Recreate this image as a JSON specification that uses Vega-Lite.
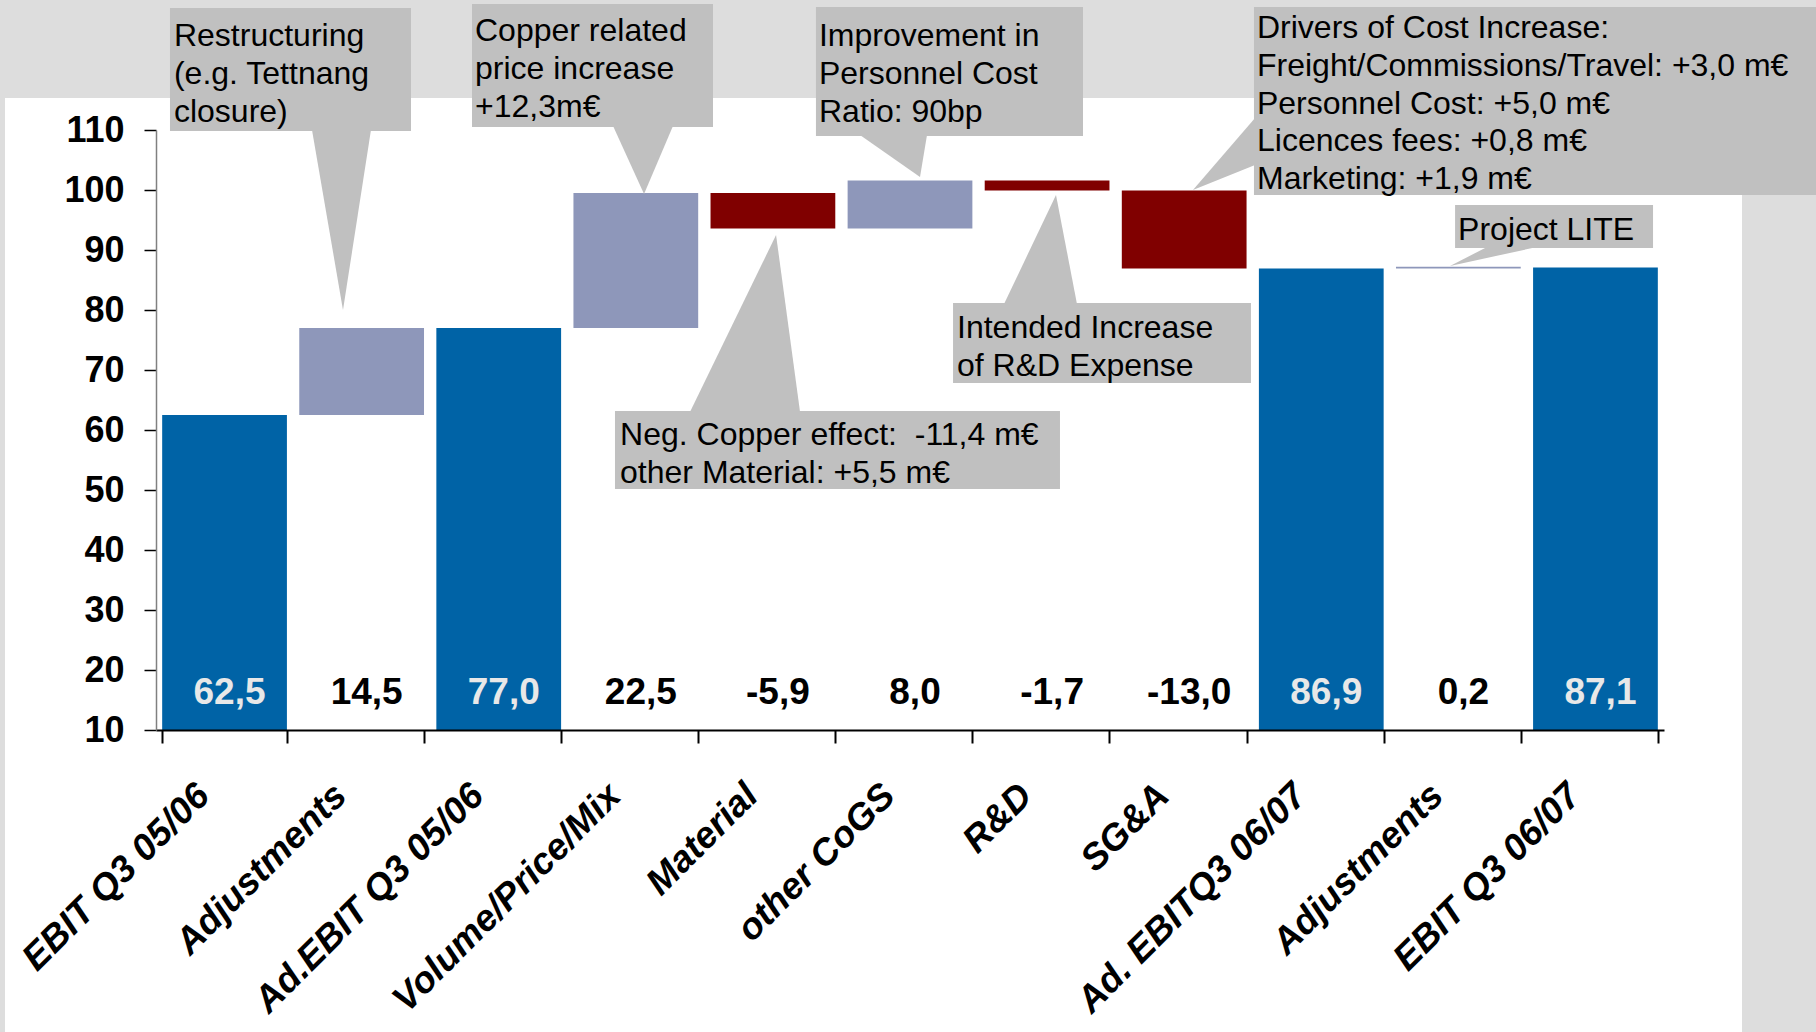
{
  "$schema": "https://vega.github.io/schema/vega-lite/v6.json",
  "width": 1508,
  "height": 600,
  "autosize": {"type": "none"},
  "padding": {"left": 156, "top": 130, "right": 152, "bottom": 302},
  "background": "#DDDDDD",
  "config": {"view": {"stroke": null}, "font": "Liberation Sans", "axis": {"zindex": 2}},
  "datasets": {
    "bg": [{"x0": -1.1015, "x1": 11.569, "y0": -45, "y1": 115.33}],
    "bars": [
      {"key": "01|EBIT Q3 05/06", "start": 0, "end": 62.5, "type": "total", "label": "62,5"},
      {"key": "02|Adjustments", "start": 62.5, "end": 77.0, "type": "up", "label": "14,5"},
      {"key": "03|Ad.EBIT Q3 05/06", "start": 0, "end": 77.0, "type": "total", "label": "77,0"},
      {"key": "04|Volume/Price/Mix", "start": 77.0, "end": 99.5, "type": "up", "label": "22,5"},
      {"key": "05|Material", "start": 99.5, "end": 93.6, "type": "down", "label": "-5,9"},
      {"key": "06|other CoGS", "start": 93.6, "end": 101.6, "type": "up", "label": "8,0"},
      {"key": "07|R&D", "start": 101.6, "end": 99.9, "type": "down", "label": "-1,7"},
      {"key": "08|SG&A", "start": 99.9, "end": 86.9, "type": "down", "label": "-13,0"},
      {"key": "09|Ad. EBITQ3 06/07", "start": 0, "end": 86.9, "type": "total", "label": "86,9"},
      {"key": "10|Adjustments", "start": 86.9, "end": 87.2, "type": "up", "label": "0,2"},
      {"key": "11|EBIT Q3 06/07", "start": 0, "end": 87.1, "type": "total", "label": "87,1"}
    ],
    "boxes": [
      {"id": "restructuring", "x0": 0.102, "x1": 1.860, "y0": 109.83, "y1": 130.33},
      {"id": "copper", "x0": 2.305, "x1": 4.063, "y0": 110.5, "y1": 131.0},
      {"id": "personnel", "x0": 4.814, "x1": 6.762, "y0": 109.0, "y1": 130.5},
      {"id": "negcopper", "x0": 3.348, "x1": 6.594, "y0": 50.17, "y1": 63.17},
      {"id": "rnd", "x0": 5.814, "x1": 7.987, "y0": 67.83, "y1": 81.17},
      {"id": "drivers", "x0": 8.009, "x1": 12.2, "y0": 99.17, "y1": 130.5},
      {"id": "lite", "x0": 9.476, "x1": 10.920, "y0": 90.33, "y1": 97.5}
    ],
    "hptr": [
      {"id": "restructuring", "y": 110.0, "xa": 1.138, "xb": 1.568},
      {"id": "restructuring", "y": 80.0, "xa": 1.364, "xb": 1.364},
      {"id": "copper", "y": 110.67, "xa": 3.334, "xb": 3.771},
      {"id": "copper", "y": 99.33, "xa": 3.560, "xb": 3.560},
      {"id": "personnel", "y": 109.17, "xa": 5.135, "xb": 5.624},
      {"id": "personnel", "y": 102.17, "xa": 5.573, "xb": 5.573},
      {"id": "negcopper", "y": 63.0, "xa": 3.895, "xb": 4.698},
      {"id": "negcopper", "y": 92.5, "xa": 4.523, "xb": 4.523},
      {"id": "rnd", "y": 81.0, "xa": 6.186, "xb": 6.718},
      {"id": "rnd", "y": 99.17, "xa": 6.565, "xb": 6.565},
      {"id": "lite", "y": 90.5, "xa": 9.709, "xb": 10.074},
      {"id": "lite", "y": 87.33, "xa": 9.439, "xb": 9.439}
    ],
    "vptr": [
      {"id": "drivers", "x": 7.564, "ya": 100.0, "yb": 100.0},
      {"id": "drivers", "x": 8.017, "ya": 112.0, "yb": 104.17}
    ],
    "notes": [
      {"id": "restructuring", "x": 0.131, "y": 128.17, "text": "Restructuring\n(e.g. Tettnang\nclosure)"},
      {"id": "copper", "x": 2.327, "y": 129.0, "text": "Copper related\nprice increase\n+12,3m€"},
      {"id": "personnel", "x": 4.836, "y": 128.17, "text": "Improvement in\nPersonnel Cost\nRatio: 90bp"},
      {"id": "negcopper", "x": 3.385, "y": 61.67, "text": "Neg. Copper effect: \u00a0-11,4 m€\nother Material: +5,5 m€"},
      {"id": "rnd", "x": 5.843, "y": 79.5, "text": "Intended Increase\nof R&D Expense"},
      {"id": "drivers", "x": 8.031, "y": 129.5, "text": "Drivers of Cost Increase:\nFreight/Commissions/Travel: +3,0 m€\nPersonnel Cost: +5,0 m€\nLicences fees: +0,8 m€\nMarketing: +1,9 m€"},
      {"id": "lite", "x": 9.498, "y": 95.83, "text": "Project LITE"}
    ]
  },
  "layer": [
    {
      "data": {"name": "bg"},
      "mark": {"type": "rect", "color": "#FFFFFF"},
      "encoding": {
        "x": {"field": "x0", "type": "quantitative", "scale": {"domain": [0, 11], "nice": false, "zero": false}, "axis": null},
        "x2": {"field": "x1"},
        "y": {"field": "y0", "type": "quantitative"},
        "y2": {"field": "y1"}
      }
    },
    {
      "data": {"name": "bars"},
      "mark": {"type": "bar", "clip": true},
      "encoding": {
        "x": {
          "field": "key", "type": "nominal", "sort": null,
          "scale": {"paddingInner": 0.09, "paddingOuter": 0.045},
          "axis": {
            "title": null,
            "zindex": 2,
            "labelExpr": "split(datum.value, '|')[1]",
            "labelAngle": -45,
            "labelFontSize": 37,
            "labelFontWeight": "bold",
            "labelFontStyle": "italic",
            "labelFont": "Liberation Sans",
            "labelColor": "#000000",
            "labelPadding": 34,
            "labelOffset": -34,
            "labelLimit": 800,
            "labelOverlap": false,
            "tickBand": "extent",
            "tickSize": 13,
            "tickWidth": 2,
            "tickColor": "#000000",
            "domainColor": "#000000",
            "domainWidth": 2
          }
        },
        "y": {
          "field": "start", "type": "quantitative",
          "scale": {"domain": [10, 110], "nice": false, "zero": false},
          "axis": {
            "title": null,
            "zindex": 2,
            "values": [10, 20, 30, 40, 50, 60, 70, 80, 90, 100, 110],
            "grid": false,
            "labelFontSize": 36,
            "labelFontWeight": "bold",
            "labelFont": "Liberation Sans",
            "labelColor": "#000000",
            "labelPadding": 20,
            "labelFlush": false,
            "labelOverlap": false,
            "tickSize": 12,
            "tickWidth": 1.5,
            "tickColor": "#000000",
            "domainColor": "#808080",
            "domainWidth": 1.5
          }
        },
        "y2": {"field": "end"},
        "color": {
          "field": "type", "type": "nominal",
          "scale": {"domain": ["total", "up", "down"], "range": ["#0063A6", "#8E97BA", "#800000"]},
          "legend": null
        }
      }
    },
    {
      "data": {"name": "bars"},
      "mark": {"type": "text", "fontSize": 37, "fontWeight": "bold", "font": "Liberation Sans", "baseline": "middle", "align": "center", "dx": 5},
      "encoding": {
        "x": {"field": "key", "type": "nominal", "sort": null, "scale": {"paddingInner": 0.09, "paddingOuter": 0.045}, "axis": null},
        "y": {"datum": 16.1},
        "text": {"field": "label"},
        "color": {"condition": {"test": "datum.type === 'total'", "value": "#E8E8E8"}, "value": "#000000"}
      }
    },
    {
      "data": {"name": "boxes"},
      "mark": {"type": "rect", "color": "#C0C0C0"},
      "encoding": {
        "x": {"field": "x0", "type": "quantitative", "scale": {"domain": [0, 11], "nice": false, "zero": false}, "axis": null},
        "x2": {"field": "x1"},
        "y": {"field": "y0", "type": "quantitative"},
        "y2": {"field": "y1"}
      }
    },
    {
      "data": {"name": "hptr"},
      "mark": {"type": "area", "orient": "horizontal", "color": "#C0C0C0"},
      "encoding": {
        "y": {"field": "y", "type": "quantitative"},
        "x": {"field": "xa", "type": "quantitative", "scale": {"domain": [0, 11], "nice": false, "zero": false}, "axis": null},
        "x2": {"field": "xb"},
        "detail": {"field": "id"}
      }
    },
    {
      "data": {"name": "vptr"},
      "mark": {"type": "area", "orient": "vertical", "color": "#C0C0C0"},
      "encoding": {
        "x": {"field": "x", "type": "quantitative", "scale": {"domain": [0, 11], "nice": false, "zero": false}, "axis": null},
        "y": {"field": "ya", "type": "quantitative"},
        "y2": {"field": "yb"},
        "detail": {"field": "id"}
      }
    },
    {
      "data": {"name": "notes"},
      "mark": {"type": "text", "align": "left", "baseline": "top", "fontSize": 32, "lineHeight": 37.8, "lineBreak": "\n", "font": "Liberation Sans", "color": "#000000"},
      "encoding": {
        "x": {"field": "x", "type": "quantitative", "scale": {"domain": [0, 11], "nice": false, "zero": false}, "axis": null},
        "y": {"field": "y", "type": "quantitative"},
        "text": {"field": "text"}
      }
    }
  ],
  "resolve": {"scale": {"x": "independent"}}
}
